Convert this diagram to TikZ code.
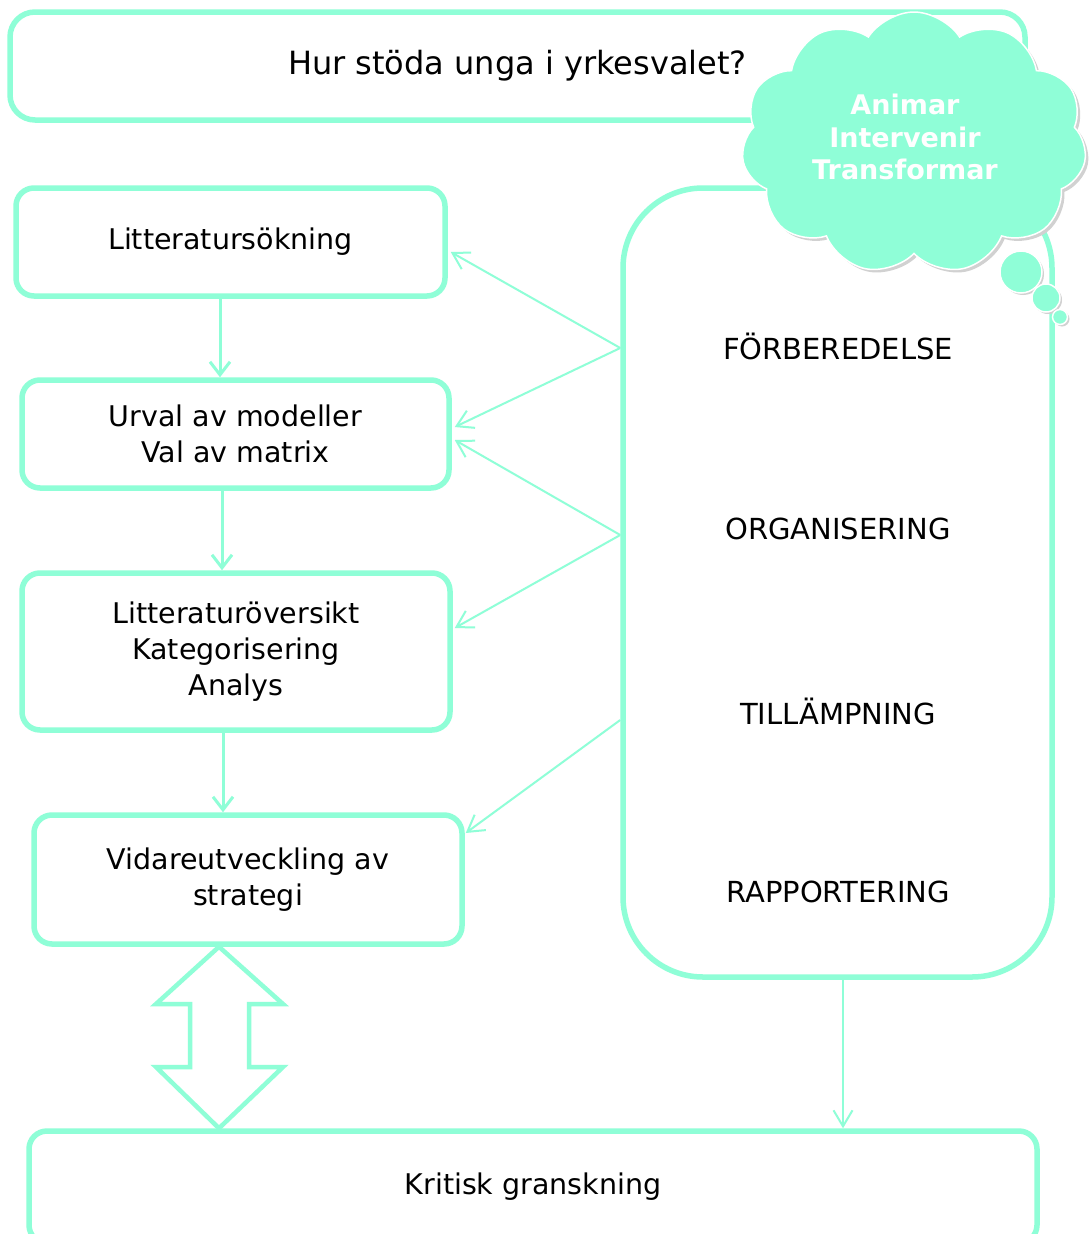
\documentclass[tikz,border=0pt]{standalone}
\usepackage{fontspec}
\setmainfont{DejaVu Sans}
\usetikzlibrary{arrows.meta,shapes.symbols,calc}
\definecolor{mint}{RGB}{143,254,215}
\tikzset{
  box/.style={draw=mint, line width=5.5pt, rounded corners=18pt, inner sep=0pt, align=center, font=\fontsize{28.5}{36}\selectfont},
  thin/.style={draw=mint, line width=2pt, -{Straight Barb[length=16pt,width=19pt]}},
  down/.style={draw=mint, line width=3pt, -{Straight Barb[length=13pt,width=20pt]}},
  phase/.style={font=\fontsize{29}{32}\selectfont},
}
\begin{document}
\begin{tikzpicture}[x=1pt,y=-1pt]
\useasboundingbox (0,0) rectangle (1090,1234);
\clip (0,0) rectangle (1090,1234);
\fill[white] (0,0) rectangle (1090,1234);

% title
\node[box, rounded corners=25pt, minimum width=1015pt, minimum height=108pt, font=\fontsize{32}{36}\selectfont] (title) at (517.5,66) {Hur stöda unga i yrkesvalet?};

% left column
\node[box, minimum width=429pt, minimum height=108pt] (lit) at (230.5,242) {Litteratursökning};
\node[box, minimum width=427pt, minimum height=108pt] (urval) at (235.5,434) {Urval av modeller\\Val av matrix};
\node[box, minimum width=428pt, minimum height=157pt] (over) at (236,651.5) {Litteraturöversikt\\Kategorisering\\Analys};
\node[box, minimum width=428pt, minimum height=129pt] (vid) at (248,879.5) {Vidareutveckling av\\strategi};

% right big box
\node[box, rounded corners=80pt, minimum width=429pt, minimum height=789pt] (big) at (837.5,582.5) {};
\node[phase] (f1) at (838,346) {FÖRBEREDELSE};
\node[phase] (f2) at (838,529) {ORGANISERING};
\node[phase] (f3) at (838,711) {TILLÄMPNING};
\node[phase] (f4) at (838,892) {RAPPORTERING};

% bottom box
\node[box, minimum width=1008pt, minimum height=112pt] (krit) at (533,1187) {Kritisk granskning};

% vertical arrows
\draw[down] ([xshift=-10.5pt]lit.south) -- ([xshift=-10.5pt]lit.south |- urval.north);
\draw[down] ([xshift=-13.5pt]urval.south) -- ([xshift=-13.5pt]urval.south |- over.north);
\draw[down] ([xshift=-13pt]over.south) -- ([xshift=-13pt]over.south |- vid.north);

% thin arrows from big box
\coordinate (p1) at ([yshift=234.5pt]big.west);
\coordinate (p2) at ([yshift=47.5pt]big.west);
\coordinate (p3) at ([yshift=-137.5pt]big.west);
\draw[thin] (p1) -- ([yshift=-10pt,xshift=3pt]lit.east);
\draw[thin] (p1) -- ([yshift=7pt,xshift=3pt]urval.east);
\draw[thin] (p2) -- ([yshift=-6pt,xshift=3pt]urval.east);
\draw[thin] (p2) -- ([yshift=23.5pt,xshift=2pt]over.east);
\draw[thin] (p3) -- ([yshift=46.5pt,xshift=1pt]vid.east);
\draw[thin] ([xshift=5.5pt]big.south) -- ([xshift=5.5pt]big.south |- krit.north);

% double block arrow
\coordinate (dtop) at ([xshift=-29pt]vid.south);
\coordinate (dbot) at ([xshift=-314pt]krit.north);
\draw[mint, line width=4.5pt, line join=miter]
  (dtop) -- (283,1004) -- (249,1004) -- (249,1067) -- (283,1067) -- (dbot)
  -- (156,1067) -- (190,1067) -- (190,1004) -- (156,1004) -- cycle;

% cloud
\node[cloud, cloud puffs=11, cloud puff arc=115, aspect=1.33, minimum width=345pt, minimum height=262pt,
      fill=black!18, draw=none] at (917,146) {};
\node[cloud, cloud puffs=11, cloud puff arc=115, aspect=1.33, minimum width=345pt, minimum height=262pt,
      fill=mint, draw=white, line width=1.5pt] (cloud) at (914,143) {};
\fill[black!18] (1023,274) circle (21);
\fill[black!18] (1048,300) circle (14);
\fill[black!18] (1062,319) circle (7.5);
\filldraw[fill=mint, draw=white, line width=1.5pt] (1021,272) circle (21);
\filldraw[fill=mint, draw=white, line width=1.5pt] (1046,298) circle (14);
\filldraw[fill=mint, draw=white, line width=1.5pt] (1060,317) circle (7.5);
\node[text=white, font=\bfseries\fontsize{27}{32.5}\selectfont, align=center] (ctext) at (905,137) {Animar\\Intervenir\\Transformar};
\end{tikzpicture}
\end{document}
